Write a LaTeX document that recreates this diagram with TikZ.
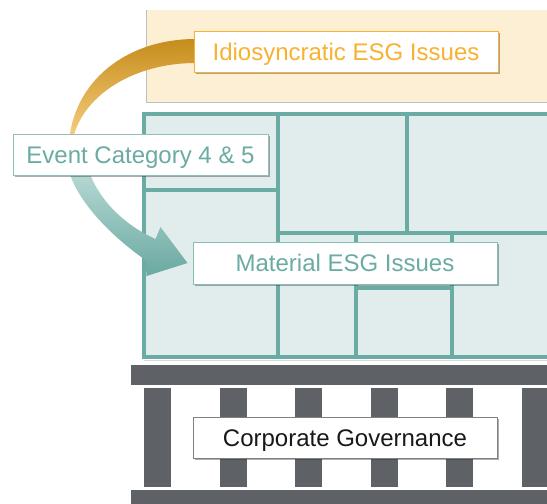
\documentclass[tikz,border=0pt]{standalone}
\usepackage{fontspec}
\setmainfont{Liberation Sans}
\usetikzlibrary{calc, shadows}

\definecolor{esgorange}{HTML}{F7B231}
\definecolor{esgpeach}{HTML}{FDEFD3}
\definecolor{esgteal}{HTML}{6AABA3}
\definecolor{esgmint}{HTML}{E1EDEC}
\definecolor{esggrey}{HTML}{5E6266}
\definecolor{banddark}{HTML}{C68D1C}
\definecolor{bandmid}{HTML}{D3A34C}
\definecolor{bandlight}{HTML}{F6CD7E}
\definecolor{arrowlight}{HTML}{B6D8D3}
\definecolor{arrowdark}{HTML}{6AA9A1}

\pgfdeclarelayer{backdrop}
\pgfdeclarelayer{bands}
\pgfsetlayers{backdrop,bands,main}

\begin{document}
\begin{tikzpicture}[x=0.75pt, y=-0.75pt,
    tag/.style={draw, fill=white, line width=0.75pt, minimum width=228pt, minimum height=30.75pt,
        inner sep=0pt, font=\fontsize{18}{20}\selectfont, text height=12.9pt, text depth=0pt,
        drop shadow={shadow xshift=1.8pt, shadow yshift=-1.8pt, opacity=0.4, fill=black!80}},
    wall/.style={draw=esgteal, line width=2.8pt},
    pillar/.style={fill=esggrey}]
            \clip (0,0) rectangle (547,504);

            \begin{pgfonlayer}{backdrop}
            \fill[esgpeach] (146,10) rectangle (560,102);
            \draw[black!25, line width=0.6pt] (146,10) -- (146,102) -- (560,102);

            \fill[esgmint] (144,114) rectangle (560,357);
            \draw[black!15, line width=1pt] (144,360.5) -- (560,360.5);
            \draw[wall] (560,114) -- (144,114) -- (144,357) -- (560,357);
            \draw[wall] (278,114) -- (278,357);
            \draw[wall] (144,190) -- (278,190);
            \draw[wall] (407,114) -- (407,233);
            \draw[wall] (278,233) -- (560,233);
            \draw[wall] (356,233) -- (356,357);
            \draw[wall] (452,233) -- (452,357);
            \draw[wall] (356,288) -- (452,288);

            \fill[pillar] (131,365) rectangle (560,385);
            \foreach \x in {144,220,295,371,446,522}
                \fill[pillar] (\x,388) rectangle ++(27,99);
            \fill[pillar] (131,490) rectangle (560,510);
            \end{pgfonlayer}

            \node[tag, draw=esgorange, text=esgorange] (idio) at (346,51.5) {Idiosyncratic ESG Issues};
            \node[tag, draw=esgteal!75, text=esgteal, minimum width=191.25pt] (event) at (140.5,154.5) {Event Category 4 \& 5};
            \node[tag, draw=esgteal!80, text=esgteal, minimum height=31.5pt] (mat) at (345,263) {Material ESG Issues};
            \node[tag, draw=black!50, text=black!90] (corp) at (345,437.5) {Corporate Governance};

            \begin{pgfonlayer}{bands}
            \path[top color=banddark, middle color=bandmid, bottom color=bandlight]
                ($(idio.west)+(2,-12.5)$) .. controls +(-66,0) and +(8,-59) .. ($(event.north west)+(57,3)$)
                -- ($(event.north west)+(61,3)$) .. controls +(11,-42) and +(-61,0) .. ($(idio.west)+(2,11.5)$) -- cycle;
            \path[top color=arrowlight, bottom color=arrowdark]
                ($(event.south west)+(57,-3)$) .. controls +(8,28) and +(-36,-25) .. ($(mat.west)+(-47,-3)$)
                -- ($(mat.west)+(-46,13)$) -- ($(mat.west)+(-5,0)$) -- ($(mat.west)+(-32,-36)$)
                -- ($(mat.west)+(-37,-24)$) .. controls +(-31,-14) and +(10,28) .. ($(event.south west)+(77,-3)$) -- cycle;
            \end{pgfonlayer}
        \end{tikzpicture}
\end{document}
